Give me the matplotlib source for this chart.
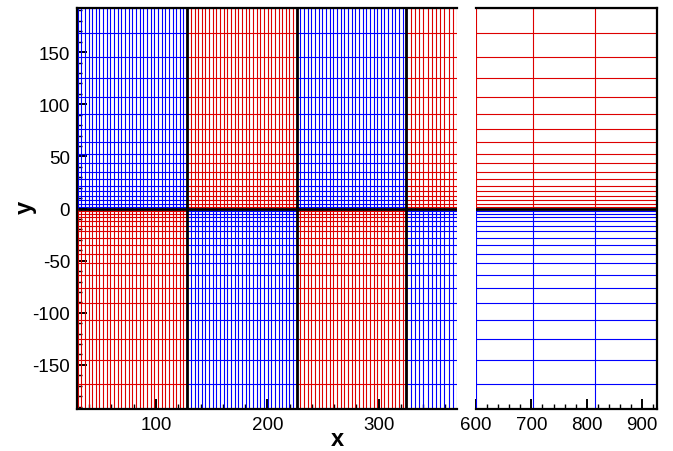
import numpy as np
import matplotlib.pyplot as plt
from matplotlib.ticker import MultipleLocator

plt.rcParams['font.family'] = ['Liberation Sans', 'DejaVu Sans']
plt.rcParams['axes.unicode_minus'] = False

# vertical mesh lines of each block
x_block1 = [29.5, 32.8, 36.1, 39.4, 42.6, 45.9, 49.2, 52.5, 55.8, 59.1, 62.3,
            65.6, 68.9, 72.2, 75.5, 78.8, 82.0, 85.3, 88.6, 91.9, 95.2, 98.5,
            101.7, 105.0, 108.3, 111.6, 114.9, 118.2, 121.4, 124.7, 128.0]
x_block2 = [128.0, 131.3, 134.6, 137.9, 141.1, 144.4, 147.7, 151.0, 154.3,
            157.6, 160.8, 164.1, 167.4, 170.7, 174.0, 177.3, 180.5, 183.8,
            187.1, 190.4, 193.7, 197.0, 200.2, 203.5, 206.8, 210.1, 213.4,
            216.7, 219.9, 223.2, 226.5]
x_block3 = [226.5, 229.8, 233.1, 236.4, 239.6, 242.9, 246.2, 249.5, 252.8,
            256.1, 259.3, 262.6, 265.9, 269.2, 272.5, 275.8, 279.0, 282.3,
            285.6, 288.9, 292.2, 295.5, 298.7, 302.0, 305.3, 308.6, 311.9,
            315.2, 318.4, 321.7, 325.0]
x_block4 = [325.0, 328.8, 332.6, 336.4, 340.2, 344.0, 347.8, 351.6, 355.4,
            359.2, 363.0, 366.8, 370.6, 600.0, 703.0, 815.0, 927.5]

# horizontal mesh lines, upper and lower half
y_upper = [1.9, 4.8, 8.3, 12.1, 16.6, 22.0, 28.1, 35.1, 43.4, 52.6, 63.8,
           76.3, 90.6, 106.6, 124.8, 145.2, 168.2, 192.0]
y_lower = [-1.9, -4.8, -8.3, -12.1, -16.6, -22.0, -28.1, -35.1, -43.4, -52.6,
           -63.8, -76.3, -90.6, -106.6, -124.8, -145.2, -168.2, -192.0]

blocks = [x_block1, x_block2, x_block3, x_block4]
colors_upper = ['#0000ff', '#dd0000', '#0000ff', '#dd0000']
colors_lower = ['#dd0000', '#0000ff', '#dd0000', '#0000ff']
block_edges = [128.0, 226.5, 325.0]

lw = 0.8


def draw_mesh(ax):
    for xs, cu, cl in zip(blocks, colors_upper, colors_lower):
        ax.vlines(xs, 0, y_upper[-1], colors=cu, lw=lw)
        ax.hlines(y_upper, xs[0], xs[-1], colors=cu, lw=lw)
        ax.vlines(xs, y_lower[-1], 0, colors=cl, lw=lw)
        ax.hlines(y_lower, xs[0], xs[-1], colors=cl, lw=lw)
    ax.vlines(block_edges, y_lower[-1], y_upper[-1], colors='black', lw=2.0)
    ax.hlines([0], x_block1[0], x_block4[-1], colors='black', lw=2.0)


fig = plt.figure(figsize=(6.73, 4.52), dpi=100)
ax1 = fig.add_axes([0.1144, 0.0929, 0.5642, 0.8871])
ax2 = fig.add_axes([0.7073, 0.0929, 0.2694, 0.8871])

for ax in (ax1, ax2):
    draw_mesh(ax)
    ax.set_ylim(-192.3, 192.3)
    for s in ax.spines.values():
        s.set_linewidth(1.6)
    ax.xaxis.set_minor_locator(MultipleLocator(20))
    ax.tick_params(which='both', direction='in', top=False, right=False,
                   labelsize=13.5, pad=5)
    ax.tick_params(which='major', length=7, width=1.4)
    ax.tick_params(which='minor', length=3.8, width=1.0)

ax1.set_xlim(29, 370.2)
ax1.set_xticks([100, 200, 300])
ax1.set_yticks([-150, -100, -50, 0, 50, 100, 150])
ax1.yaxis.set_minor_locator(MultipleLocator(10))
ax1.spines['right'].set_visible(False)

ax2.set_xlim(600, 927.5)
ax2.set_xticks([600, 700, 800, 900])
ax2.spines['left'].set_visible(False)
ax2.tick_params(axis='y', which='both', left=False, labelleft=False)

fig.text(337 / 673, 0.014, 'x', ha='center', va='baseline',
         fontsize=17, fontweight='bold')
fig.text(25 / 673, 0.542, 'y', ha='center', va='center', rotation=90,
         fontsize=17, fontweight='bold')

plt.savefig('out.png', dpi=100)
